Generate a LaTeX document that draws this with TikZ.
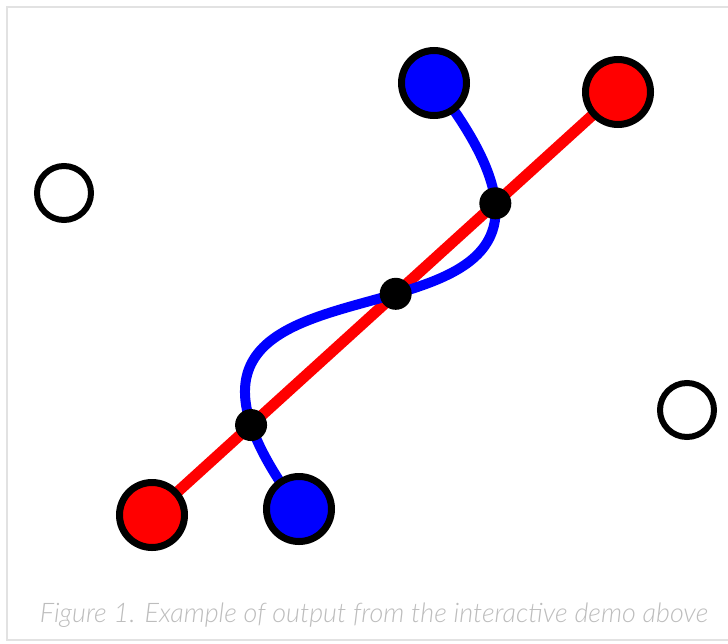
\documentclass[tikz,border=0pt]{standalone}
\usepackage{fontspec}
\newfontfamily\capfont{Lato Light Italic}
\usetikzlibrary{intersections}
\definecolor{capgray}{HTML}{BDBDBD}
\definecolor{framegray}{HTML}{E2E2E2}
\tikzset{
  handle/.style={circle, draw=black, line width=7pt, minimum size=65pt, inner sep=0pt},
  ctrl/.style={circle, draw=black, fill=white, line width=6pt, minimum size=54pt, inner sep=0pt},
  hit/.style={circle, fill=black, minimum size=32pt, inner sep=0pt},
  redline/.style={draw=red, line width=11pt},
  blueline/.style={draw=blue, line width=10pt},
}
\begin{document}
\begin{tikzpicture}[x=1pt,y=-1pt]
\useasboundingbox (0,0) rectangle (728,643);
\fill[white] (0,0) rectangle (728,643);
\draw[framegray, line width=1.6pt] (7,7) rectangle (740,640);
% anchor points
\coordinate (pb1) at (434,83);
\coordinate (pr1) at (618,92);
\coordinate (pr2) at (152,515);
\coordinate (pb2) at (299,509);
\coordinate (pc1) at (687,410);
\coordinate (pc2) at (64,193);
% connectors
\path[redline, name path=seg] (pr2) -- (pr1);
\path[blueline, name path=curve] (pb1) .. controls (pc1) and (pc2) .. (pb2);
\path[name intersections={of=seg and curve, by={x1,x2,x3}}];
\node[hit] (h1) at (x1) {};
\node[hit] (h2) at (x2) {};
\node[hit] (h3) at (x3) {};
% points
\node[handle, fill=blue] (b1) at (pb1) {};
\node[handle, fill=blue] (b2) at (pb2) {};
\node[handle, fill=red] (r1) at (pr1) {};
\node[handle, fill=red] (r2) at (pr2) {};
\node[ctrl] (c1) at (pc1) {};
\node[ctrl] (c2) at (pc2) {};
% caption
\node[text=capgray, inner sep=0pt] (cap) at (374,615)
  {\resizebox{668pt}{!}{\capfont Figure 1. Example of output from the interactive demo above}};
\end{tikzpicture}
\end{document}
